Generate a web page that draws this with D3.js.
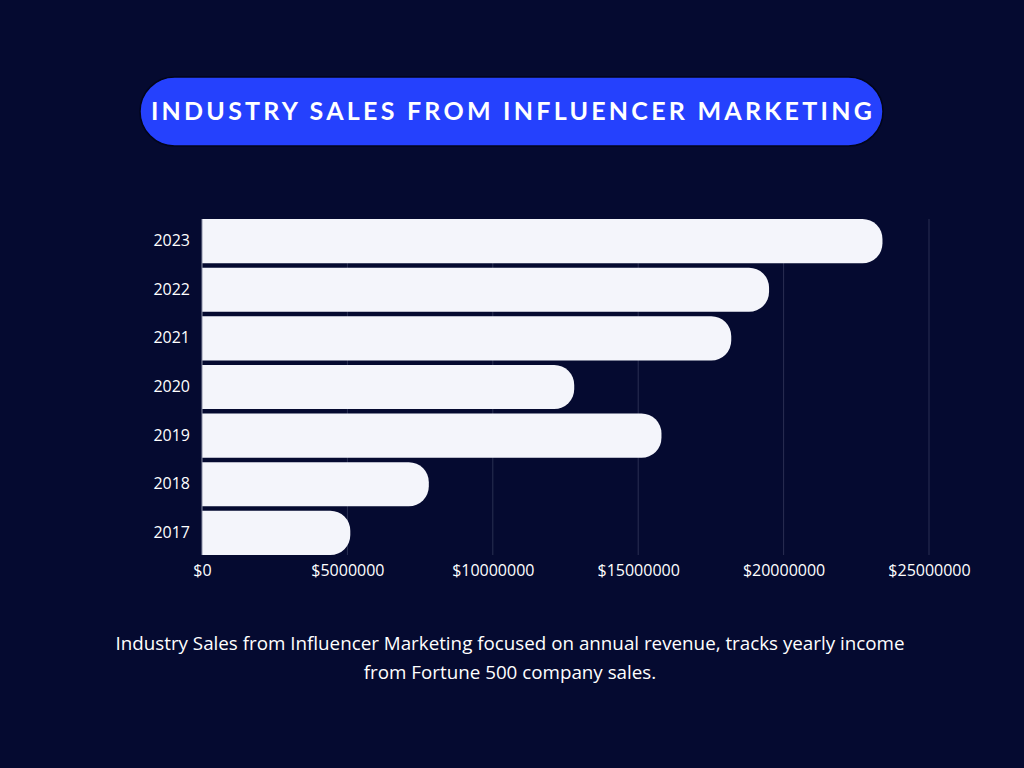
<!DOCTYPE html>
<html>
<head>
<meta charset="utf-8">
<script src="https://cdn.jsdelivr.net/npm/d3@7"></script>
<style>
html,body{margin:0;padding:0;background:#050a30;}
svg{display:block;}
</style>
</head>
<body>
<svg id="chart" width="1024" height="768"></svg>
<script>
const years = ["2023","2022","2021","2020","2019","2018","2017"];
const sales = [23400000, 19500000, 18200000, 12800000, 15800000, 7800000, 5100000];
const tickValues = [0, 5000000, 10000000, 15000000, 20000000, 25000000];
const titleText = "INDUSTRY SALES FROM INFLUENCER MARKETING";
const captionLines = ["Industry Sales from Influencer Marketing focused on annual revenue, tracks yearly income",
                      "from Fortune 500 company sales."];

const svg = d3.select("#chart");
svg.append("rect").attr("width",1024).attr("height",768).attr("fill","#050a30");

// title pill
svg.append("rect").attr("x",140).attr("y",77).attr("width",743).attr("height",69)
  .attr("rx",34.5).attr("fill","#2541fd").attr("stroke","#02051a").attr("stroke-width",1.5);
svg.append("text").attr("x",513).attr("y",120).attr("text-anchor","middle")
  .attr("fill","#ffffff").attr("font-family","Lato, 'Open Sans', sans-serif")
  .attr("font-weight","700").attr("font-size",25).attr("letter-spacing",3.25)
  .text(titleText);

const x = d3.scaleLinear().domain([0,25000000]).range([202,929]);
const y = d3.scaleBand().domain(years).range([219,555]).paddingInner(0.09).paddingOuter(0.0);

// gridlines
svg.append("g").selectAll("line").data(tickValues.slice(1)).join("line")
  .attr("x1",d=>x(d)).attr("x2",d=>x(d)).attr("y1",219).attr("y2",555)
  .attr("stroke","#2a2f52").attr("stroke-width",1);

// bars
const r = 20;
svg.append("g").selectAll("path").data(years).join("path")
  .attr("fill","#f4f5fb")
  .attr("d",(d,i)=>{
    const x0 = x(0), x1 = x(sales[i]), y0 = y(d), h = y.bandwidth();
    const rr = Math.min(r, h/2, x1-x0);
    return `M${x0},${y0} H${x1-rr} A${rr},${rr} 0 0 1 ${x1},${y0+rr} V${y0+h-rr} A${rr},${rr} 0 0 1 ${x1-rr},${y0+h} H${x0} Z`;
  });

// axis line
svg.append("line").attr("x1",x(0)).attr("x2",x(0)).attr("y1",219).attr("y2",555)
  .attr("stroke","#8e92a8").attr("stroke-width",1);

// y labels
const yAxis = svg.append("g").attr("transform",`translate(${x(0)},0)`)
  .call(d3.axisLeft(y).tickSize(0).tickPadding(12));
yAxis.select(".domain").remove();
yAxis.selectAll("text").attr("fill","#ffffff").attr("font-size",16)
  .attr("font-family","'Open Sans', Lato, sans-serif");

// x labels
const xAxis = svg.append("g").attr("transform",`translate(0,555)`)
  .call(d3.axisBottom(x).tickValues(tickValues).tickSize(0).tickPadding(10)
    .tickFormat(d=>"$"+d));
xAxis.select(".domain").remove();
xAxis.selectAll("text").attr("fill","#ffffff").attr("font-size",16)
  .attr("font-family","'Open Sans', Lato, sans-serif");

// caption
svg.append("g").selectAll("text").data(captionLines).join("text")
  .attr("x",510).attr("y",(d,i)=>650+i*29).attr("text-anchor","middle")
  .attr("fill","#ffffff").attr("font-size",18.8)
  .attr("font-family","'Open Sans', sans-serif")
  .text(d=>d);
</script>
</body>
</html>
